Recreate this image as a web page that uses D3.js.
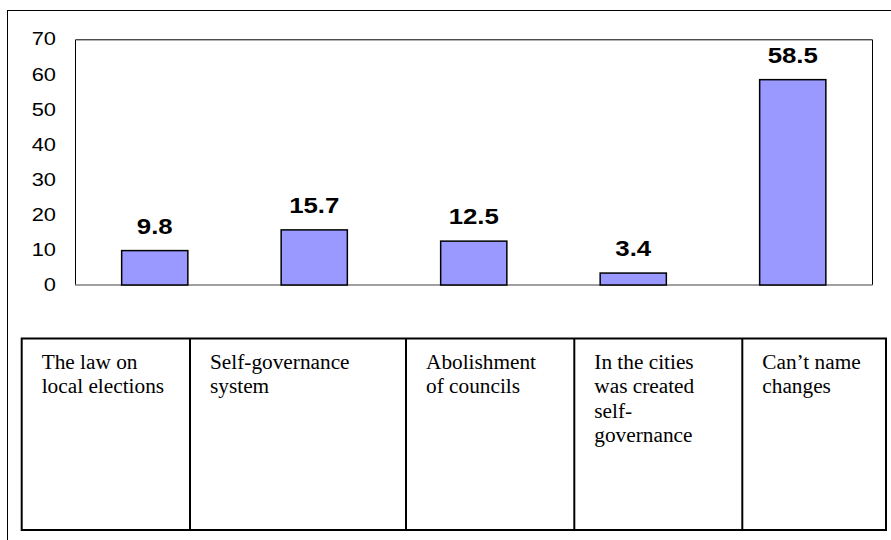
<!DOCTYPE html>
<html>
<head>
<meta charset="utf-8">
<script src="https://cdn.jsdelivr.net/npm/d3@7"></script>
<style>
  html, body { margin: 0; padding: 0; background: #fff; }
  svg { display: block; }
</style>
</head>
<body>
<svg id="chart" width="891" height="540"></svg>
<script>
// Responses: what changed in local self-governance (percent)
const categories = [
  "The law on local elections",
  "Self-governance system",
  "Abolishment of councils",
  "In the cities was created self-governance",
  "Can’t name changes"
];
const values = [9.8, 15.7, 12.5, 3.4, 58.5];
const valueLabels = ["9.8", "15.7", "12.5", "3.4", "58.5"];
const yTicks = [0, 10, 20, 30, 40, 50, 60, 70];
// Wrapped lines as they appear in the category table
const categoryLines = [
  ["The law on", "local elections"],
  ["Self-governance", "system"],
  ["Abolishment", "of councils"],
  ["In the cities", "was created", "self-", "governance"],
  ["Can’t name", "changes"]
];

const svg = d3.select("#chart");

// Outer frame
svg.append("rect")
  .attr("x", 7.5).attr("y", 10.5)
  .attr("width", 900).attr("height", 560)
  .attr("fill", "none").attr("stroke", "#000").attr("stroke-width", 1);

// Plot area
const plot = { left: 75, right: 872.5, top: 39.3, bottom: 285 };

const x = d3.scaleBand()
  .domain(categories)
  .range([plot.left, plot.right])
  .paddingInner(0.585)
  .paddingOuter(0.2925);

const y = d3.scaleLinear()
  .domain([0, 70])
  .range([plot.bottom, plot.top]);

// Plot frame: top, left, right in black; baseline in grey
const frame = svg.append("g");
frame.append("path")
  .attr("d", `M${plot.left + 0.5},${plot.bottom} V${plot.top + 0.5} H${plot.right} V${plot.bottom}`)
  .attr("fill", "none").attr("stroke", "#000").attr("stroke-width", 1);
frame.append("line")
  .attr("x1", plot.left).attr("x2", plot.right)
  .attr("y1", plot.bottom).attr("y2", plot.bottom)
  .attr("stroke", "#808080").attr("stroke-width", 1.5);

// Y axis labels
const yAxis = d3.axisLeft(y).tickValues(yTicks).tickSize(0).tickPadding(0);
const gy = svg.append("g")
  .attr("transform", "translate(56,0)")
  .call(yAxis);
gy.select(".domain").remove();
gy.selectAll("text")
  .attr("font-family", "'Liberation Sans', Arial, sans-serif")
  .attr("font-size", 17.5)
  .attr("fill", "#000")
  .attr("transform", "scale(1.25,1)");

// Bars
svg.append("g").selectAll("rect")
  .data(values)
  .join("rect")
  .attr("x", (d, i) => x(categories[i]))
  .attr("y", d => y(d))
  .attr("width", x.bandwidth())
  .attr("height", d => y(0) - y(d))
  .attr("fill", "#9999FF")
  .attr("stroke", "#000")
  .attr("stroke-width", 1.5);

// Value labels
svg.append("g").selectAll("text")
  .data(values)
  .join("text")
  .attr("transform", (d, i) =>
    `translate(${x(categories[i]) + x.bandwidth() / 2},${y(d) - 17}) scale(1.2,1)`)
  .attr("text-anchor", "middle")
  .attr("font-family", "'Liberation Sans', Arial, sans-serif")
  .attr("font-weight", "bold")
  .attr("font-size", 21.5)
  .attr("fill", "#000")
  .text((d, i) => valueLabels[i]);

// Category table below the chart
const table = { top: 338.5, bottom: 530, edges: [21.7, 190, 406, 574.3, 742.3, 886] };
const tg = svg.append("g");
tg.append("rect")
  .attr("x", table.edges[0]).attr("y", table.top)
  .attr("width", table.edges[5] - table.edges[0])
  .attr("height", table.bottom - table.top)
  .attr("fill", "none").attr("stroke", "#000").attr("stroke-width", 2);
tg.selectAll("line.col")
  .data(table.edges.slice(1, -1))
  .join("line")
  .attr("class", "col")
  .attr("x1", d => d).attr("x2", d => d)
  .attr("y1", table.top).attr("y2", table.bottom)
  .attr("stroke", "#000").attr("stroke-width", 2);

tg.selectAll("text.cat")
  .data(categoryLines)
  .join("text")
  .attr("class", "cat")
  .attr("font-family", "'Liberation Serif', 'Times New Roman', serif")
  .attr("font-size", 21.3)
  .attr("fill", "#000")
  .each(function (lines, i) {
    const t = d3.select(this);
    lines.forEach((ln, j) => {
      t.append("tspan")
        .attr("x", table.edges[i] + 20)
        .attr("y", 369 + j * 24.3)
        .text(ln);
    });
  });
</script>
</body>
</html>
